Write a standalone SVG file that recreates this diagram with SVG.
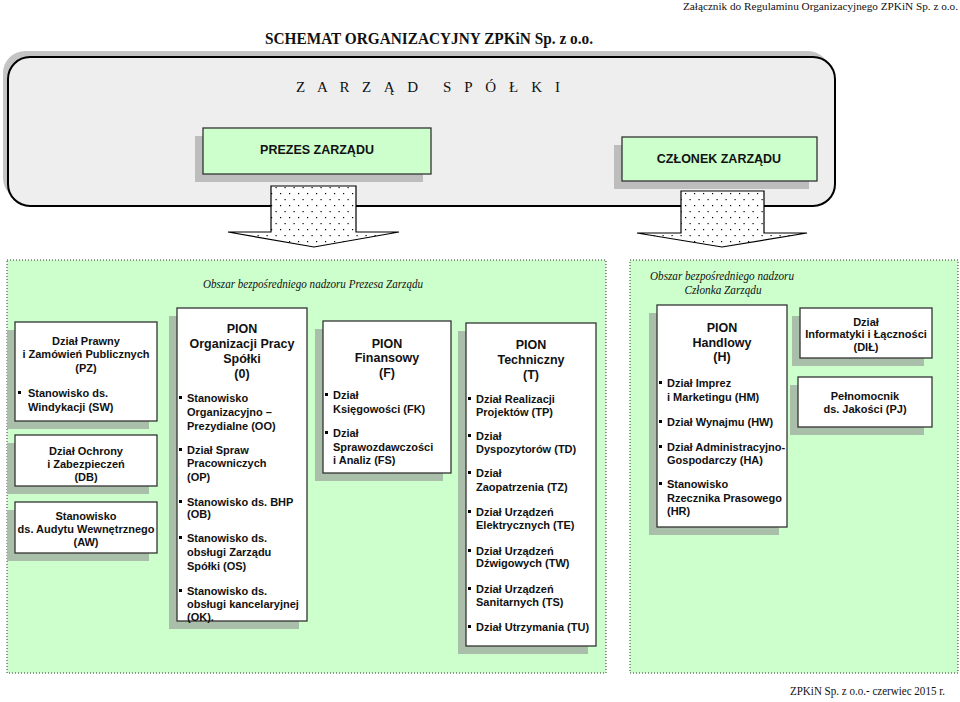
<svg xmlns="http://www.w3.org/2000/svg" width="960" height="702" viewBox="0 0 960 702">
<style>
.serif{font-family:"Liberation Serif","Times New Roman",serif;fill:#111}
.it{font-family:"Liberation Serif","Times New Roman",serif;font-style:italic;font-size:13px;fill:#111}
.it2{font-family:"Liberation Serif","Times New Roman",serif;font-style:italic;font-size:12px;fill:#111}
.b{font-family:"Liberation Sans",Arial,sans-serif;font-weight:bold;font-size:11px;fill:#111}
.h{font-family:"Liberation Sans",Arial,sans-serif;font-weight:bold;font-size:12.5px;fill:#111}
.c{text-anchor:middle}
.box{fill:#fff;stroke:#333;stroke-width:1.3}
.gbox{fill:#ccffcc;stroke:#333;stroke-width:1.3}
.sh{fill:#a9bfa9}
.shg{fill:#bdbdbd}
.area{fill:#ccffcc;stroke:#333;stroke-width:1;stroke-dasharray:1 2}
.arrow{fill:url(#dots);stroke:#000;stroke-width:1.2;stroke-linejoin:miter}
</style>
<defs>
<pattern id="dots" width="9" height="12" patternUnits="userSpaceOnUse">
<rect width="9" height="12" fill="#fff"/>
<rect x="1" y="1" width="1.2" height="1.2" fill="#000"/>
<rect x="5.5" y="7" width="1.2" height="1.2" fill="#000"/>
</pattern>
<rect id="bul" width="3" height="3" fill="#000"/>
</defs>
<rect width="960" height="702" fill="#fff"/>

<text class="serif" x="958" y="10" font-size="11" text-anchor="end" textLength="275" lengthAdjust="spacingAndGlyphs">Załącznik do Regulaminu Organizacyjnego ZPKiN Sp. z o.o.</text>
<text class="serif" x="265" y="44" font-size="16" font-weight="bold" textLength="328" lengthAdjust="spacingAndGlyphs">SCHEMAT ORGANIZACYJNY ZPKiN Sp. z o.o.</text>

<g id="zarzad">
<rect x="3" y="51" width="827" height="149" rx="22" fill="#c4c4c4"/>
<rect x="8" y="57" width="827" height="149" rx="22" fill="#eeeeee" stroke="#000" stroke-width="2"/>
<text class="serif" x="296" y="92" font-size="15" textLength="122" lengthAdjust="spacing">Z A R Z Ą D</text>
<text class="serif" x="443" y="92" font-size="15" textLength="117" lengthAdjust="spacing">S P Ó Ł K I</text>
</g>

<g id="prezes">
<rect class="shg" x="195" y="136" width="228" height="46"/>
<rect class="gbox" x="203" y="128" width="228" height="46"/>
<text class="h c" x="317" y="153.5">PREZES ZARZĄDU</text>
</g>

<g id="czlonek">
<rect class="shg" x="614" y="145" width="195" height="44"/>
<rect class="gbox" x="622" y="137" width="195" height="44"/>
<text class="h c" x="719" y="163">CZŁONEK ZARZĄDU</text>
</g>

<g id="obszar-prezes">
<rect class="area" x="7" y="260" width="599" height="413"/>
<text class="it c" x="313" y="288" textLength="220" lengthAdjust="spacingAndGlyphs">Obszar bezpośredniego nadzoru Prezesa Zarządu</text>
</g>

<g id="obszar-czlonek">
<rect class="area" x="630" y="260" width="328" height="413"/>
<text class="it2 c" x="722" y="280" textLength="144" lengthAdjust="spacingAndGlyphs">Obszar bezpośredniego nadzoru</text>
<text class="it2 c" x="723" y="294" textLength="77" lengthAdjust="spacingAndGlyphs">Członka Zarządu</text>
</g>

<g id="connectors">
<path class="arrow" d="M271,186 H356 V232 H399 L314,247 L228,232 H271 Z"/>
<path class="arrow" d="M681,191 H764 V233 H807 L722,247 L637,233 H681 Z"/>
</g>

<g id="pz">
<rect class="sh" x="7" y="330" width="142" height="99"/>
<rect class="box" x="15" y="322" width="142" height="99"/>
<text class="b c" x="86" y="345">Dział Prawny</text>
<text class="b c" x="86" y="358">i Zamówień Publicznych</text>
<text class="b c" x="86" y="372">(PZ)</text>
<use href="#bul" x="18" y="391"/>
<text class="b" x="28" y="397">Stanowisko ds.</text>
<text class="b" x="28" y="411">Windykacji (SW)</text>
</g>

<g id="db">
<rect class="sh" x="7" y="443" width="142" height="51"/>
<rect class="box" x="15" y="435" width="142" height="51"/>
<text class="b c" x="86" y="455">Dział Ochrony</text>
<text class="b c" x="86" y="468">i Zabezpieczeń</text>
<text class="b c" x="86" y="481">(DB)</text>
</g>

<g id="aw">
<rect class="sh" x="7" y="510" width="142" height="51"/>
<rect class="box" x="15" y="502" width="142" height="51"/>
<text class="b c" x="86" y="520">Stanowisko</text>
<text class="b c" x="86" y="533">ds. Audytu Wewnętrznego</text>
<text class="b c" x="86" y="546">(AW)</text>
</g>

<g id="pion-o">
<rect class="sh" x="169" y="316" width="130" height="313"/>
<rect class="box" x="177" y="308" width="130" height="313"/>
<text class="h c" x="242" y="332.5">PION</text>
<text class="h c" x="242" y="347.5">Organizacji Pracy</text>
<text class="h c" x="242" y="362.5">Spółki</text>
<text class="h c" x="242" y="377.5">(0)</text>
<use href="#bul" x="179" y="396"/>
<text class="b" x="187" y="402">Stanowisko</text>
<text class="b" x="187" y="416">Organizacyjno –</text>
<text class="b" x="187" y="430">Prezydialne (OO)</text>
<use href="#bul" x="179" y="448"/>
<text class="b" x="187" y="454">Dział Spraw</text>
<text class="b" x="187" y="467">Pracowniczych</text>
<text class="b" x="187" y="481">(OP)</text>
<use href="#bul" x="179" y="500"/>
<text class="b" x="187" y="506">Stanowisko ds. BHP</text>
<text class="b" x="187" y="518">(OB)</text>
<use href="#bul" x="179" y="536"/>
<text class="b" x="187" y="542">Stanowisko ds.</text>
<text class="b" x="187" y="556">obsługi Zarządu</text>
<text class="b" x="187" y="570">Spółki (OS)</text>
<use href="#bul" x="179" y="589"/>
<text class="b" x="187" y="595">Stanowisko ds.</text>
<text class="b" x="187" y="608">obsługi kancelaryjnej</text>
<text class="b" x="187" y="621">(OK).</text>
</g>

<g id="pion-f">
<rect class="sh" x="315" y="329" width="128" height="152"/>
<rect class="box" x="323" y="321" width="128" height="152"/>
<text class="h c" x="387" y="347.5">PION</text>
<text class="h c" x="387" y="361.5">Finansowy</text>
<text class="h c" x="387" y="376.5">(F)</text>
<use href="#bul" x="325" y="393"/>
<text class="b" x="333" y="399">Dział</text>
<text class="b" x="333" y="413">Księgowości (FK)</text>
<use href="#bul" x="325" y="431"/>
<text class="b" x="333" y="437">Dział</text>
<text class="b" x="333" y="451">Sprawozdawczości</text>
<text class="b" x="333" y="464">i Analiz (FS)</text>
</g>

<g id="pion-t">
<rect class="sh" x="458" y="331" width="130" height="323"/>
<rect class="box" x="466" y="323" width="130" height="323"/>
<text class="h c" x="531" y="348.5">PION</text>
<text class="h c" x="531" y="363.5">Techniczny</text>
<text class="h c" x="531" y="378.5">(T)</text>
<use href="#bul" x="468" y="397"/>
<text class="b" x="476" y="403">Dział Realizacji</text>
<text class="b" x="476" y="416">Projektów (TP)</text>
<use href="#bul" x="468" y="434"/>
<text class="b" x="476" y="440">Dział</text>
<text class="b" x="476" y="453">Dyspozytorów (TD)</text>
<use href="#bul" x="468" y="471"/>
<text class="b" x="476" y="477">Dział</text>
<text class="b" x="476" y="491">Zaopatrzenia (TZ)</text>
<use href="#bul" x="468" y="510"/>
<text class="b" x="476" y="516">Dział Urządzeń</text>
<text class="b" x="476" y="529">Elektrycznych (TE)</text>
<use href="#bul" x="468" y="549"/>
<text class="b" x="476" y="555">Dział Urządzeń</text>
<text class="b" x="476" y="567">Dźwigowych (TW)</text>
<use href="#bul" x="468" y="587"/>
<text class="b" x="476" y="593">Dział Urządzeń</text>
<text class="b" x="476" y="606">Sanitarnych (TS)</text>
<use href="#bul" x="468" y="625"/>
<text class="b" x="476" y="631">Dział Utrzymania (TU)</text>
</g>

<g id="pion-h">
<rect class="sh" x="649" y="313" width="130" height="222"/>
<rect class="box" x="657" y="305" width="130" height="222"/>
<text class="h c" x="722" y="331.5">PION</text>
<text class="h c" x="722" y="346.5">Handlowy</text>
<text class="h c" x="722" y="360.5">(H)</text>
<use href="#bul" x="659" y="381"/>
<text class="b" x="667" y="387">Dział Imprez</text>
<text class="b" x="667" y="401">i Marketingu (HM)</text>
<use href="#bul" x="659" y="420"/>
<text class="b" x="667" y="426">Dział Wynajmu (HW)</text>
<use href="#bul" x="659" y="445"/>
<text class="b" x="667" y="451">Dział Administracyjno-</text>
<text class="b" x="667" y="464">Gospodarczy (HA)</text>
<use href="#bul" x="659" y="482"/>
<text class="b" x="667" y="488">Stanowisko</text>
<text class="b" x="667" y="502">Rzecznika Prasowego</text>
<text class="b" x="667" y="515">(HR)</text>
</g>

<g id="dil">
<rect class="sh" x="792" y="316" width="132" height="50"/>
<rect class="box" x="800" y="308" width="132" height="50"/>
<text class="b c" x="866" y="326">Dział</text>
<text class="b c" x="866" y="338">Informatyki i Łączności</text>
<text class="b c" x="866" y="351">(DIŁ)</text>
</g>

<g id="pj">
<rect class="sh" x="790" y="385" width="134" height="50"/>
<rect class="box" x="798" y="377" width="134" height="50"/>
<text class="b c" x="865" y="400">Pełnomocnik</text>
<text class="b c" x="865" y="413">ds. Jakości (PJ)</text>
</g>

<text class="serif" x="790" y="695" font-size="12" textLength="155" lengthAdjust="spacingAndGlyphs">ZPKiN Sp. z o.o.- czerwiec 2015 r.</text>
</svg>
